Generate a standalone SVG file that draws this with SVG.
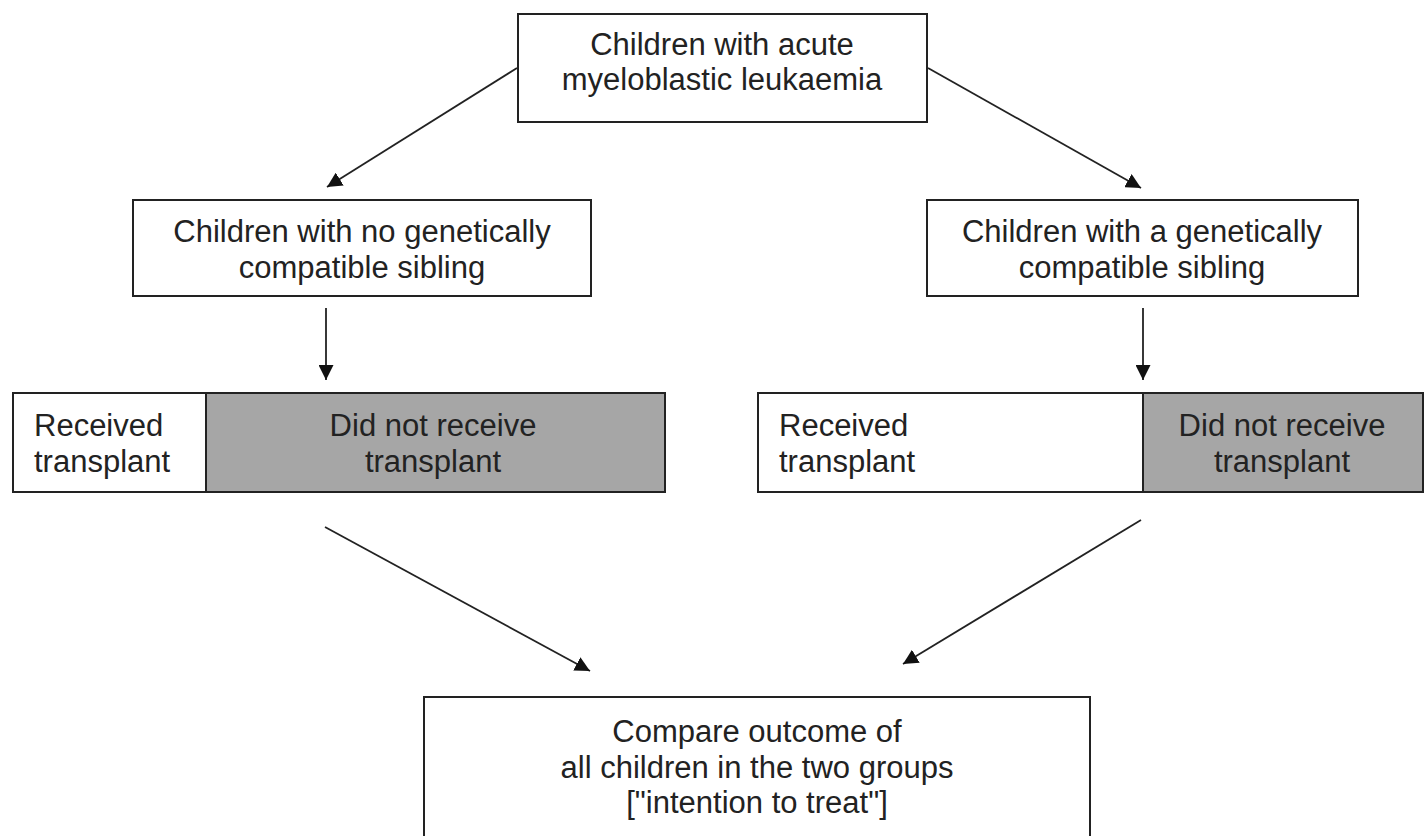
<svg xmlns="http://www.w3.org/2000/svg" width="1427" height="836" viewBox="0 0 1427 836">
<style>
.box{fill:#fff;stroke:#222;stroke-width:2}
.gray{fill:#a6a6a6;stroke:#222;stroke-width:2}
.t{font-family:"Liberation Sans",Arial,sans-serif;font-size:31px;fill:#222}
.c{text-anchor:middle}
.ln{stroke:#222;stroke-width:1.8;fill:none;marker-end:url(#ah)}
</style>
<defs>
<marker id="ah" viewBox="0 0 10 10" refX="10" refY="5" markerWidth="15" markerHeight="15" markerUnits="userSpaceOnUse" orient="auto" preserveAspectRatio="none">
<path d="M0,0 L10,5 L0,10 z" fill="#111"/>
</marker>
</defs>
<rect width="1427" height="836" fill="#fff"/>
<g id="connectors">
<line class="ln" x1="517" y1="68" x2="327" y2="187"/>
<line class="ln" x1="928" y1="68" x2="1141" y2="188"/>
<line class="ln" x1="326" y1="308" x2="326" y2="380"/>
<line class="ln" x1="1143" y1="308" x2="1143" y2="380"/>
<line class="ln" x1="325" y1="527" x2="590" y2="671"/>
<line class="ln" x1="1141" y1="520" x2="903" y2="664"/>
</g>
<g id="top">
<rect class="box" x="518" y="14" width="409" height="108"/>
<text class="t c" x="722" y="55">Children with acute</text>
<text class="t c" x="722" y="90">myeloblastic leukaemia</text>
</g>
<g id="no-sibling">
<rect class="box" x="133" y="200" width="458" height="96"/>
<text class="t c" x="362" y="242">Children with no genetically</text>
<text class="t c" x="362" y="278">compatible sibling</text>
</g>
<g id="sibling">
<rect class="box" x="927" y="200" width="431" height="96"/>
<text class="t c" x="1142" y="242">Children with a genetically</text>
<text class="t c" x="1142" y="278">compatible sibling</text>
</g>
<g id="left-split">
<rect class="box" x="13" y="393" width="193" height="99"/>
<rect class="gray" x="206" y="393" width="459" height="99"/>
<text class="t" x="34" y="436">Received</text>
<text class="t" x="34" y="472">transplant</text>
<text class="t c" x="433" y="436">Did not receive</text>
<text class="t c" x="433" y="472">transplant</text>
</g>
<g id="right-split">
<rect class="box" x="758" y="393" width="385" height="99"/>
<rect class="gray" x="1143" y="393" width="280" height="99"/>
<text class="t" x="779" y="436">Received</text>
<text class="t" x="779" y="472">transplant</text>
<text class="t c" x="1282" y="436">Did not receive</text>
<text class="t c" x="1282" y="472">transplant</text>
</g>
<g id="compare">
<rect class="box" x="424" y="697" width="666" height="150"/>
<text class="t c" x="757" y="742">Compare outcome of</text>
<text class="t c" x="757" y="778">all children in the two groups</text>
<text class="t c" x="757" y="813">["intention to treat"]</text>
</g>
</svg>
